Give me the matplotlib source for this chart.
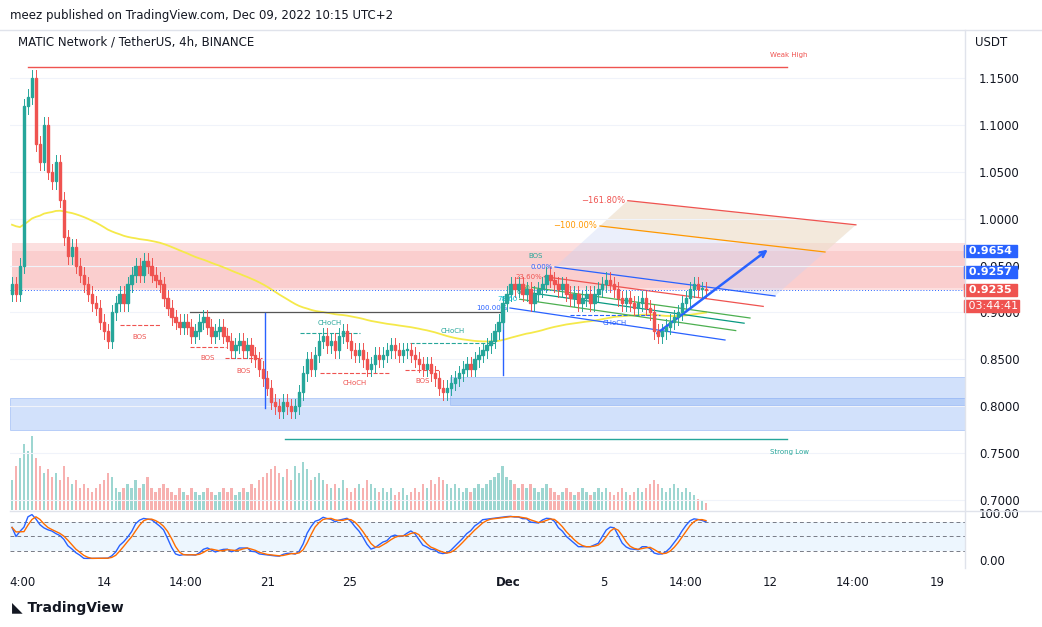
import matplotlib
matplotlib.use("Agg")
import matplotlib.pyplot as plt
import numpy as np
import pandas as pd
from matplotlib.patches import Polygon, Rectangle

W, H = 1042, 627

closes = [0.93, 0.92, 0.95, 1.12, 1.13, 1.15, 1.08, 1.06, 1.10, 1.05, 1.04, 1.06, 1.02, 0.98, 0.96, 0.97,
          0.95, 0.94, 0.93, 0.92, 0.91, 0.905, 0.89, 0.88, 0.87, 0.90, 0.91, 0.92, 0.91, 0.93, 0.94, 0.95,
          0.94, 0.955, 0.95, 0.94, 0.935, 0.93, 0.915, 0.905, 0.895, 0.89, 0.885, 0.89, 0.885, 0.875, 0.88,
          0.89, 0.895, 0.885, 0.875, 0.88, 0.885, 0.875, 0.87, 0.86, 0.865, 0.87, 0.86, 0.865, 0.855, 0.85,
          0.84, 0.83, 0.82, 0.805, 0.80, 0.795, 0.805, 0.80, 0.795, 0.80, 0.815, 0.835, 0.85, 0.84, 0.855,
          0.87, 0.875, 0.865, 0.87, 0.86, 0.875, 0.88, 0.87, 0.86, 0.855, 0.86, 0.85, 0.84, 0.845, 0.855,
          0.85, 0.855, 0.86, 0.865, 0.86, 0.855, 0.86, 0.86, 0.855, 0.85, 0.845, 0.84, 0.845, 0.835, 0.83,
          0.82, 0.815, 0.82, 0.825, 0.83, 0.835, 0.84, 0.845, 0.84, 0.85, 0.855, 0.86, 0.865, 0.87, 0.88,
          0.89, 0.91, 0.92, 0.93, 0.925, 0.93, 0.92, 0.925, 0.91, 0.92, 0.925, 0.93, 0.94, 0.935, 0.93,
          0.925, 0.93, 0.92, 0.915, 0.92, 0.91, 0.915, 0.92, 0.91, 0.92, 0.925, 0.93, 0.935, 0.93, 0.925,
          0.915, 0.91, 0.915, 0.91, 0.905, 0.91, 0.915, 0.905, 0.90, 0.88, 0.875, 0.88, 0.885, 0.89, 0.895,
          0.90, 0.91, 0.915, 0.925, 0.93, 0.925, 0.925, 0.9235]

volumes = [0.4, 0.6, 0.7, 0.9, 0.8, 1.0, 0.7, 0.6, 0.5, 0.55, 0.45, 0.5, 0.4, 0.6, 0.45, 0.35,
           0.4, 0.3, 0.35, 0.3, 0.25, 0.3, 0.35, 0.4, 0.5, 0.45, 0.3, 0.25, 0.3, 0.35, 0.3, 0.4,
           0.3, 0.35, 0.45, 0.3, 0.25, 0.3, 0.35, 0.3, 0.25, 0.2, 0.3, 0.25, 0.2, 0.3, 0.25,
           0.2, 0.25, 0.3, 0.25, 0.2, 0.25, 0.3, 0.25, 0.3, 0.2, 0.25, 0.3, 0.25, 0.35, 0.3,
           0.4, 0.45, 0.5, 0.55, 0.6, 0.5, 0.45, 0.55, 0.4, 0.6, 0.5, 0.65, 0.55, 0.4, 0.45,
           0.5, 0.4, 0.35, 0.3, 0.35, 0.3, 0.4, 0.3, 0.25, 0.3, 0.35, 0.3, 0.4, 0.35, 0.3,
           0.25, 0.3, 0.25, 0.3, 0.2, 0.25, 0.3, 0.2, 0.25, 0.3, 0.25, 0.35, 0.3, 0.4, 0.35,
           0.45, 0.4, 0.35, 0.3, 0.35, 0.3, 0.25, 0.3, 0.25, 0.3, 0.35, 0.3, 0.35, 0.4, 0.45,
           0.5, 0.6, 0.45, 0.4, 0.35, 0.3, 0.35, 0.3, 0.35, 0.3, 0.25, 0.3, 0.35, 0.3, 0.25,
           0.2, 0.25, 0.3, 0.25, 0.2, 0.25, 0.3, 0.25, 0.2, 0.25, 0.3, 0.25, 0.3, 0.25, 0.2,
           0.25, 0.3, 0.25, 0.2, 0.25, 0.3, 0.25, 0.3, 0.35, 0.4, 0.35, 0.3, 0.25, 0.3, 0.35,
           0.3, 0.25, 0.3, 0.25, 0.2, 0.15, 0.12, 0.1]

WICK = 0.008
MA_SEED = 0.995
price_ticks = [0.70, 0.75, 0.80, 0.85, 0.90, 0.95, 1.00, 1.05, 1.10, 1.15]
x_tick_px = [22, 104, 186, 268, 350, 508, 604, 686, 770, 853, 937]
x_tick_labels = ["4:00", "14", "14:00", "21", "25", "Dec", "5", "14:00", "12", "14:00", "19"]

n = min(len(closes), len(volumes))
closes = np.array(closes[:n])
volumes = np.array(volumes[:n])
opens = np.concatenate([[closes[0] - 0.01], closes[:-1]])
highs = np.maximum(opens, closes) + WICK
lows = np.minimum(opens, closes) - WICK

# pixel <-> candle index mapping
X0, X1 = 12, 706
step = (X1 - X0) / (n - 1)
def px2i(px):
    return (px - X0) / step
def y2p(y):
    return 1.15 - (y - 78) * 0.05 / 46.9

UP, DN = "#26a69a", "#ef5350"

fig = plt.figure(figsize=(W / 100, H / 100), dpi=100)
ax = fig.add_axes([10 / W, 1 - 510 / H, 955 / W, 480 / H])
ax.set_xlim(px2i(10), px2i(965))
ax.set_ylim(y2p(510), y2p(30))

# volume on twin axis
axv = ax.twinx()
axv.set_ylim(0, volumes.max() * 6.5)
axv.set_xlim(ax.get_xlim())
idx = np.arange(n)
vcol = [UP if c >= o else DN for o, c in zip(opens, closes)]
axv.bar(idx, volumes, width=0.6, color=vcol, alpha=0.45)
axv.axis("off")
ax.set_zorder(axv.get_zorder() + 1)
ax.patch.set_visible(False)

# zones
ax.add_patch(Rectangle((px2i(12), y2p(290)), px2i(965) - px2i(12), y2p(243) - y2p(290),
                       color="#f8a5a5", alpha=0.35, lw=0))
ax.add_patch(Rectangle((px2i(12), 0.9257), px2i(965) - px2i(12), 0.9654 - 0.9257,
                       color="#f28b8b", alpha=0.2, lw=0))
ax.add_patch(Rectangle((px2i(450), y2p(405)), px2i(965) - px2i(450), y2p(377) - y2p(405),
                       facecolor="#90b4f5", alpha=0.4, edgecolor="#5b8def", lw=0.6))
ax.add_patch(Rectangle((px2i(10), y2p(430)), px2i(965) - px2i(10), y2p(398) - y2p(430),
                       facecolor="#90b4f5", alpha=0.4, edgecolor="#5b8def", lw=0.6))

# weak high / strong low
ax.plot([px2i(28), px2i(787)], [1.162, 1.162], color="#ef5350", lw=1)
ax.text(px2i(770), y2p(55), "Weak High", color="#ef5350", fontsize=5, va="center")
ax.plot([px2i(285), px2i(787)], [0.765, 0.765], color="#26a69a", lw=1)
ax.text(px2i(770), y2p(452), "Strong Low", color="#26a69a", fontsize=5, va="center")

# moving average
ma = pd.Series(np.concatenate([[MA_SEED], closes])).ewm(span=90, adjust=False).mean().values[1:]
ax.plot(idx, ma, color="#f5e94a", lw=1.3, zorder=2)

# candles
for i in range(n):
    c = UP if closes[i] >= opens[i] else DN
    ax.plot([i, i], [lows[i], highs[i]], color=c, lw=0.7, zorder=3)
    ax.add_patch(Rectangle((i - 0.3, min(opens[i], closes[i])), 0.6,
                           max(abs(closes[i] - opens[i]), 0.0015), color=c, zorder=4))

# structure lines
ax.plot([px2i(190), px2i(503)], [0.90, 0.90], color="#555555", lw=0.9)
ax.plot([px2i(265)] * 2, [y2p(313), y2p(408)], color="#2962ff", lw=1)
ax.plot([px2i(503)] * 2, [y2p(310), y2p(375)], color="#2962ff", lw=1)
bos = [(120, 325, 160, "BOS", 339), (190, 347, 226, "BOS", 360), (225, 358, 262, "BOS", 373),
       (405, 370, 440, "BOS", 383)]
for x0, y, x1, t, ty in bos:
    ax.plot([px2i(x0), px2i(x1)], [y2p(y)] * 2, color="#ef5350", lw=0.8, ls="--")
    ax.text(px2i((x0 + x1) / 2), y2p(ty), t, color="#ef5350", fontsize=5, ha="center")
choch = [(300, 333, 360, "CHoCH", 325, "#26a69a"), (410, 343, 495, "CHoCH", 333, "#26a69a"),
         (320, 373, 390, "CHoCH", 385, "#ef5350"), (570, 315, 660, "CHoCH", 325, "#2962ff")]
for x0, y, x1, t, ty, c in choch:
    ax.plot([px2i(x0), px2i(x1)], [y2p(y)] * 2, color=c, lw=0.8, ls="--")
    ax.text(px2i((x0 + x1) / 2), y2p(ty), t, color=c, fontsize=5, ha="center")
ax.text(px2i(536), y2p(258), "BOS", color="#26a69a", fontsize=5, ha="center")

# fib channel
fib = [(0.0, "#2962ff"), (0.236, "#ef5350"), (0.5, "#4caf50"), (0.618, "#089981"),
       (0.786, "#4caf50"), (1.0, "#2962ff")]
top0 = ((555, 267), (775, 296))
bot1 = ((510, 308), (725, 340))
def lvl(f):
    return [(top0[k][0] + f * (bot1[k][0] - top0[k][0]), top0[k][1] + f * (bot1[k][1] - top0[k][1]))
            for k in range(2)]
for f, c in fib:
    (xa, ya), (xb, yb) = lvl(f)
    ax.plot([px2i(xa), px2i(xb)], [y2p(ya), y2p(yb)], color=c, lw=0.9)
(a0, a1), (b0, b1) = lvl(-1.618), lvl(0.0)
ax.add_patch(Polygon([(px2i(a0[0]), y2p(a0[1])), (px2i(a1[0]), y2p(a1[1])),
                      (px2i(b1[0]), y2p(b1[1])), (px2i(b0[0]), y2p(b0[1]))],
                     color="#c7d3f5", alpha=0.35, lw=0))
(a0, a1), (b0, b1) = lvl(-1.618), lvl(-1.0)
ax.add_patch(Polygon([(px2i(a0[0]), y2p(a0[1])), (px2i(a1[0]), y2p(a1[1])),
                      (px2i(b1[0]), y2p(b1[1])), (px2i(b0[0]), y2p(b0[1]))],
                     color="#fde2b8", alpha=0.45, lw=0))
for f, c, t in [(-1.0, "#ff9800", "\u2212100.00%"), (-1.618, "#ef5350", "\u2212161.80%")]:
    (xa, ya), (xb, yb) = lvl(f)
    ax.plot([px2i(xa), px2i(xb)], [y2p(ya), y2p(yb)], color=c, lw=0.9)
    ax.text(px2i(xa - 3), y2p(ya), t, color=c, fontsize=6, ha="right", va="center")
for f, c, t in [(0.0, "#2962ff", "0.00%"), (0.236, "#ef5350", "23.60%"), (0.5, "#4caf50", "50"),
                (0.618, "#089981", "61"), (0.786, "#00bcd4", "78.60"), (1.0, "#2962ff", "100.00%")]:
    (xa, ya), _ = lvl(f)
    ax.text(px2i(xa - 2), y2p(ya), t, color=c, fontsize=5, ha="right", va="center")

ax.annotate("", xy=(px2i(770), y2p(248)), xytext=(px2i(655), y2p(335)),
            arrowprops=dict(arrowstyle="->", color="#2962ff", lw=1.8))

# last price
ax.axhline(closes[-1], color="#2962ff", lw=0.7, ls=(0, (1, 2)))

# axes styling
for s in ax.spines.values():
    s.set_visible(False)
ax.yaxis.tick_right()
ax.set_yticks(price_ticks)
ax.set_yticklabels([f"{p:.4f}" for p in price_ticks])
ax.tick_params(axis="y", length=0, labelsize=8.5, colors="#131722", pad=10)
ax.set_xticks([])
ax.grid(axis="y", color="#f0f3fa", lw=0.8)

def price_box(y, txt, c, bold=True):
    ax.text(1.0, y2p(y), txt, transform=ax.get_yaxis_transform(), color="white", fontsize=8,
            fontweight="bold" if bold else "normal", va="center", ha="left",
            bbox=dict(boxstyle="square,pad=0.12", fc=c, ec=c), clip_on=False)
price_box(251, " 0.9654 ", "#2962ff")
price_box(272, " 0.9257 ", "#2962ff")
price_box(290, " 0.9235 ", "#ef5350")
price_box(306, " 03:44:41", "#ef5350", bold=False)

# stochastic panel
axs = fig.add_axes([10 / W, 1 - 568 / H, 955 / W, 56 / H])
axs.set_xlim(ax.get_xlim())
axs.set_ylim(-17, 102)
lo = pd.Series(lows).rolling(14, min_periods=1).min()
hi = pd.Series(highs).rolling(14, min_periods=1).max()
raw = 100 * (pd.Series(closes) - lo) / (hi - lo)
k = raw.rolling(3, min_periods=1).mean()
d = k.rolling(3, min_periods=1).mean()
axs.axhspan(20, 80, color="#2196f3", alpha=0.08, lw=0)
for lv in (20, 50, 80):
    axs.axhline(lv, color="#787b86", lw=0.7, ls=(0, (4, 3)))
axs.plot(idx, k, color="#2962ff", lw=1)
axs.plot(idx, d, color="#ff6d00", lw=1)
for s in axs.spines.values():
    s.set_visible(False)
axs.yaxis.tick_right()
axs.set_yticks([0, 100])
axs.set_yticklabels(["0.00", "100.00"])
axs.tick_params(axis="y", length=0, labelsize=8.5, colors="#131722", pad=10)
axs.set_xticks([px2i(p) for p in x_tick_px])
axs.set_xticklabels(x_tick_labels)
axs.tick_params(axis="x", length=0, labelsize=8.5, colors="#131722", pad=6)
for lbl in axs.get_xticklabels():
    if lbl.get_text() == "Dec":
        lbl.set_fontweight("bold")

fig.add_artist(plt.Line2D([10 / W, 1], [1 - 510.5 / H] * 2, color="#e0e3eb", lw=1))
fig.add_artist(plt.Line2D([965 / W] * 2, [1 - 568 / H, 1 - 30 / H], color="#e0e3eb", lw=1))
fig.add_artist(plt.Line2D([0, 1], [1 - 30 / H] * 2, color="#e0e3eb", lw=1))
fig.text(10 / W, 1 - 15 / H, "meez published on TradingView.com, Dec 09, 2022 10:15 UTC+2",
         fontsize=8.5, va="center", color="#131722")
fig.text(18 / W, 1 - 42 / H, "MATIC Network / TetherUS, 4h, BINANCE", fontsize=8.5,
         va="center", color="#131722")
fig.text(975 / W, 1 - 42 / H, "USDT", fontsize=8.5, va="center", color="#131722")
fig.text(12 / W, 1 - 608 / H, "\u25e3 TradingView", fontsize=10, va="center",
         color="#131722", fontweight="bold")

fig.savefig("out.png", dpi=100, facecolor="white")
